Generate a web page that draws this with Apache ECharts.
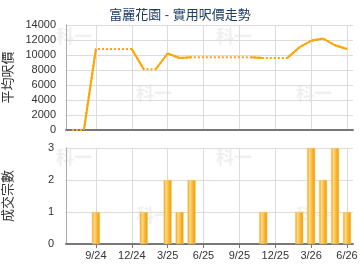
<!DOCTYPE html>
<html><head><meta charset="utf-8">
<script src="https://cdn.jsdelivr.net/npm/echarts@6/dist/echarts.min.js"></script>
<style>html,body{margin:0;padding:0;background:#fff}#c{width:360px;height:270px}</style>
</head><body><div id="c"></div>
<script>
var months = ['7/24','8/24','9/24','10/24','11/24','12/24','1/25','2/25','3/25','4/25','5/25','6/25',
              '7/25','8/25','9/25','10/25','11/25','12/25','1/26','2/26','3/26','4/26','5/26','6/26'];
var avgPrice = [0,0,10800,10800,10800,10800,8100,8100,10200,9600,9700,9700,
                9700,9700,9700,9700,9600,9600,9600,11000,11900,12200,11300,10800];
var dealCount = [0,0,1,0,0,0,1,0,2,1,2,0,
                 0,0,0,0,1,0,0,1,3,2,3,1];
var quarterLabels = ['9/24','12/24','3/25','6/25','9/25','12/25','3/26','6/26'];
var priceTicks = {min:0, max:14000, interval:2000};
var countTicks = {min:0, max:3, interval:1};

var FONT = "'Liberation Sans','Noto Sans CJK TC',sans-serif";
var LINE_COLOR = '#FFA500';
function isQuarter(i){ return quarterLabels.indexOf(months[i]) >= 0; }

var series = [];
series.push({type:'line', xAxisIndex:0, yAxisIndex:0, data:avgPrice, symbol:'none', silent:true,
  lineStyle:{color:LINE_COLOR, width:2, type:[2,2]}, z:2});
for (var i = 0; i < months.length - 1; i++) {
  if (dealCount[i+1] > 0) {
    var d = avgPrice.map(function(){return null;});
    d[i] = avgPrice[i]; d[i+1] = avgPrice[i+1];
    series.push({type:'line', xAxisIndex:0, yAxisIndex:0, data:d, symbol:'none', silent:true,
      connectNulls:false, lineStyle:{color:LINE_COLOR, width:2, type:'solid'}, z:3});
  }
}
series.push({type:'bar', xAxisIndex:1, yAxisIndex:1, data:dealCount.map(function(v){return v>0?v:null;}), barWidth:8,
  itemStyle:{color:{type:'linear', x:0, y:0, x2:1, y2:0, colorStops:[
    {offset:0, color:'#F2A100'},{offset:0.3, color:'#FFD98A'},{offset:0.6, color:'#FBBA3A'},{offset:1, color:'#E99A00'}]},
    borderColor:'#F8C060', borderWidth:0.5}});

function wm(x,y){ return {type:'text', left:x, top:y, z:0, silent:true,
  style:{text:'科一', fill:'#f0f0f0', font:'bold 18px "Noto Sans CJK TC"'}}; }

var gridLine = {show:true, lineStyle:{color:'#dcdcdc', width:1}};
var option = {
  animation:false,
  textStyle:{fontFamily:FONT},
  title:{text:'富麗花園 - 實用呎價走勢', left:'center', top:4,
    textStyle:{fontSize:13, fontWeight:'normal', color:'#1d3d63', fontFamily:FONT}},
  graphic:[wm(56,27),wm(216,27),wm(136,84),wm(296,84),wm(56,148),wm(216,148),wm(136,206),wm(296,206)],
  grid:[
    {left:66, right:7, top:25, height:105, containLabel:false, outerBoundsMode:'none'},
    {left:66, right:7, top:148, height:96, containLabel:false, outerBoundsMode:'none'}
  ],
  xAxis:[
    {type:'category', gridIndex:0, data:months, boundaryGap:true,
      axisLine:{show:true, lineStyle:{color:'#777', width:2}}, axisTick:{show:false}, axisLabel:{show:false},
      splitLine:{show:true, alignWithLabel:true, interval:function(i){return isQuarter(i);}, lineStyle:{color:'#dcdcdc'}}},
    {type:'category', gridIndex:1, data:months, boundaryGap:true,
      axisLine:{show:true, lineStyle:{color:'#777', width:2}},
      axisTick:{show:true, alignWithLabel:true, interval:function(i){return isQuarter(i);}, length:4, lineStyle:{color:'#777'}},
      axisLabel:{interval:function(i){return isQuarter(i);}, color:'#333', fontSize:11, margin:6, fontFamily:FONT},
      splitLine:{show:true, alignWithLabel:true, interval:function(i){return isQuarter(i);}, lineStyle:{color:'#dcdcdc'}}}
  ],
  yAxis:[
    {type:'value', gridIndex:0, min:priceTicks.min, max:priceTicks.max, interval:priceTicks.interval,
      name:'平均呎價', nameLocation:'middle', nameGap:51, nameRotate:90,
      nameTextStyle:{fontSize:13, color:'#333', fontFamily:FONT},
      axisLine:{show:true, lineStyle:{color:'#aaa'}}, axisTick:{show:false},
      axisLabel:{color:'#333', fontSize:11, margin:10, fontFamily:FONT, formatter:function(v){return String(v);}}, splitLine:gridLine},
    {type:'value', gridIndex:1, min:countTicks.min, max:countTicks.max, interval:countTicks.interval,
      name:'成交宗數', nameLocation:'middle', nameGap:51, nameRotate:90,
      nameTextStyle:{fontSize:13, color:'#333', fontFamily:FONT},
      axisLine:{show:true, lineStyle:{color:'#aaa'}}, axisTick:{show:false},
      axisLabel:{color:'#333', fontSize:11, margin:12, fontFamily:FONT, formatter:function(v){return String(v);}}, splitLine:gridLine}
  ],
  series:series
};
var chart = echarts.init(document.getElementById('c'), null, {renderer:'canvas'});
chart.setOption(option);
</script></body></html>
